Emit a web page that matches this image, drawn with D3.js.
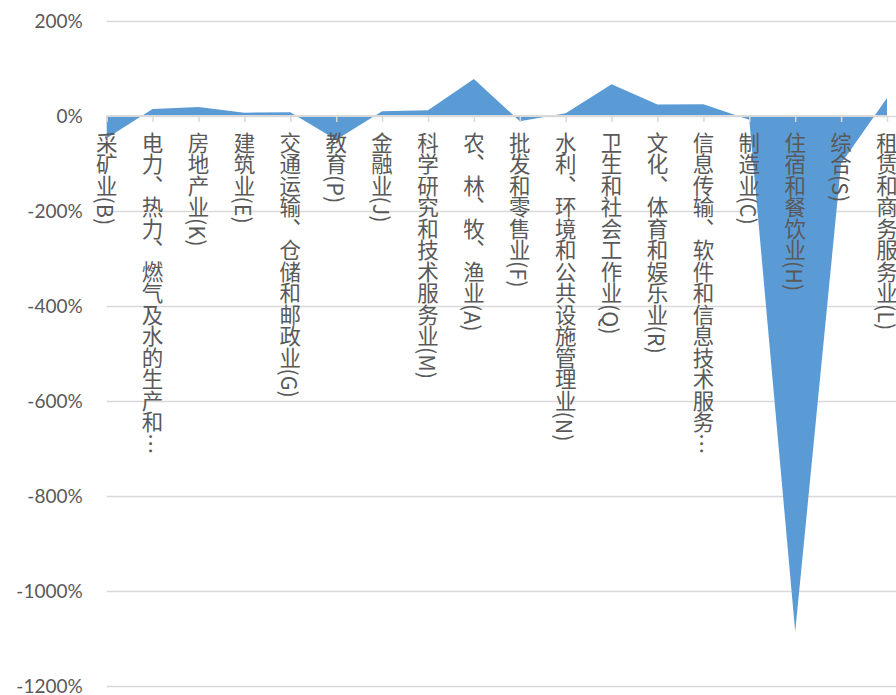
<!DOCTYPE html>
<html>
<head>
<meta charset="utf-8">
<script src="https://cdn.jsdelivr.net/npm/d3@7"></script>
<style>
  html, body { margin: 0; padding: 0; background: #fff; }
  svg { display: block; }
</style>
</head>
<body>
<svg id="chart"></svg>
<script>
const categories = [
  "采矿业(B)",
  "电力、热力、燃气及水的生产和…",
  "房地产业(K)",
  "建筑业(E)",
  "交通运输、仓储和邮政业(G)",
  "教育(P)",
  "金融业(J)",
  "科学研究和技术服务业(M)",
  "农、林、牧、渔业(A)",
  "批发和零售业(F)",
  "水利、环境和公共设施管理业(N)",
  "卫生和社会工作业(Q)",
  "文化、体育和娱乐业(R)",
  "信息传输、软件和信息技术服务…",
  "制造业(C)",
  "住宿和餐饮业(H)",
  "综合(S)",
  "租赁和商务服务业(L)"
];
const values = [-47, 15, 19, 7, 8, -50, 10, 12, 78, -11, 6, 67, 24, 25, -8, -1086, -100, 38];
const yTicks = [200, 0, -200, -400, -600, -800, -1000, -1200];

const width = 896;
const height = 695;
const margin = { top: 21, right: 9, bottom: 9, left: 106.7 };

const svg = d3.select("#chart").attr("width", width).attr("height", height);

const x_scale = d3
  .scalePoint()
  .domain(categories)
  .range([margin.left, width - margin.right]);

const y_scale = d3
  .scaleLinear()
  .domain([-1200, 200])
  .range([height - margin.bottom, margin.top]);

// gridlines + y labels
const yAxis = svg
  .append("g")
  .attr("transform", `translate(${margin.left},0)`)
  .call(
    d3.axisLeft(y_scale)
      .tickValues(yTicks)
      .tickSize(-(width - margin.left))
      .tickPadding(24)
      .tickFormat((d) => d + "%")
  );
yAxis.select(".domain").remove();
yAxis.selectAll(".tick line").attr("stroke", "#d9d9d9").attr("stroke-width", 1.3);
yAxis
  .selectAll(".tick text")
  .attr("fill", "#595959")
  .style("font-family", "Lato, 'Open Sans', sans-serif")
  .style("font-size", "19px");

// area
const area = d3
  .area()
  .x((d, i) => x_scale(categories[i]))
  .y0(y_scale(0))
  .y1((d) => y_scale(d));

svg
  .append("path")
  .datum(values)
  .attr("d", area)
  .attr("fill", "#5b9bd5");

// category axis at 0
const xAxis = svg
  .append("g")
  .attr("transform", `translate(0,${y_scale(0)})`)
  .call(d3.axisBottom(x_scale).tickSizeOuter(0).tickSize(6).tickFormat(""));
xAxis.select(".domain")
  .attr("stroke", "#d9d9d9")
  .attr("stroke-width", 2)
  .attr("d", `M${margin.left},0H${width - margin.right}`);
xAxis.selectAll(".tick line").attr("stroke", "#d9d9d9").attr("stroke-width", 1.5);

// vertical category labels
svg
  .append("g")
  .selectAll("text")
  .data(categories)
  .enter()
  .append("text")
  .attr("x", (d) => x_scale(d))
  .attr("y", y_scale(0) + 16)
  .style("writing-mode", "vertical-rl")
  .style("font-family", "'Noto Sans CJK SC', sans-serif")
  .style("font-size", "21.5px")
  .attr("fill", "#595959")
  .attr("text-anchor", "start")
  .text((d) => d);
</script>
</body>
</html>
